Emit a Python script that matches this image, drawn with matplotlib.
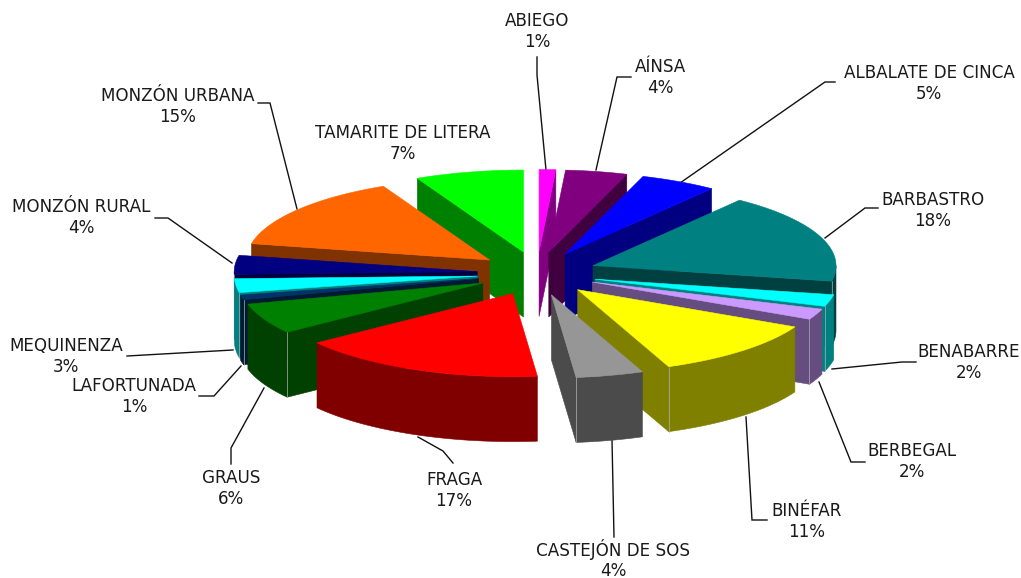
import numpy as np
import matplotlib
matplotlib.use("Agg")
import matplotlib.pyplot as plt
from matplotlib.patches import Polygon
from matplotlib.colors import to_rgb

categories = ["ABIEGO", "AÍNSA", "ALBALATE DE CINCA", "BARBASTRO", "BENABARRE",
              "BERBEGAL", "BINÉFAR", "CASTEJÓN DE SOS", "FRAGA", "GRAUS",
              "LAFORTUNADA", "MEQUINENZA", "MONZÓN RURAL", "MONZÓN URBANA",
              "TAMARITE DE LITERA"]
values = [1.1, 4.1, 5.1, 17.7, 2.3, 2.1, 11.49, 4.49, 16.52, 6.0, 0.9, 2.7, 3.7, 14.6, 7.2]
colors = ["#FF00FF", "#800080", "#0000FF", "#008080", "#00FFFF", "#CC99FF", "#FFFF00",
          "#969696", "#FF0000", "#008000", "#003366", "#00FFFF", "#000080", "#FF6600",
          "#00FF00"]

# label anchor (centre x, first line y) and leader polyline
label_pos = [(537, 21), (660, 67), (929, 73), (933, 200), (969, 352), (912, 451),
             (807, 511), (613, 550), (454, 480), (231, 478), (134, 386), (66, 346),
             (81, 207), (178, 96), (403, 133)]
leaders = [[(537, 57), (537, 75), (546, 170)],
           [(631, 77), (617, 77), (596, 170)],
           [(835, 82), (825, 82), (680, 183)],
           [(878, 208), (865, 208), (825, 238)],
           [(916, 362), (902, 362), (832, 369)],
           [(865, 462), (851, 462), (819, 382)],
           [(767, 520), (752, 520), (746, 417)],
           [(614, 537), (612, 440)],
           [(453, 463), (443, 451), (418, 437)],
           [(231, 464), (231, 448), (264, 388)],
           [(199, 396), (214, 396), (241, 366)],
           [(127, 356), (233, 350)],
           [(155, 218), (168, 218), (232, 263)],
           [(258, 103), (270, 103), (297, 209)],
           []]

CX, CY = 537, 273.5    # pie centre
EX, EY = 60, 22        # explosion
RX = 243               # pie radius across
RY_FAR, RY_NEAR = 82, 83   # foreshortened radii behind / in front of the centre
DEPTH = 65

fig = plt.figure(figsize=(10.21, 5.78), dpi=100)
ax = fig.add_axes([0, 0, 1, 1])
ax.set_xlim(0, 1021)
ax.set_ylim(578, 0)
ax.axis("off")

for pts in leaders:
    if pts:
        xs, ys = zip(*pts)
        ax.plot(xs, ys, color="#111111", lw=1.0, zorder=1, solid_joinstyle="miter")

total = sum(values)
edges = np.concatenate([[0], np.cumsum(values)]) / total * 2 * np.pi
mids = (edges[:-1] + edges[1:]) / 2
order = np.argsort(-np.cos(mids))


def poly(pts, col, z):
    ax.add_patch(Polygon(pts, closed=True, facecolor=col, edgecolor=col, lw=0.4, zorder=z))


z = 2
for i in order:
    t0, t1 = edges[i], edges[i + 1]
    tip = np.array([CX + EX * np.sin(mids[i]), CY - EY * np.cos(mids[i])])
    top = to_rgb(colors[i])
    side = tuple(c * 0.5 for c in top)
    down = np.array([0, DEPTH])

    def rim(t):
        c = np.cos(t)
        return tip + np.array([RX * np.sin(t), -(RY_FAR if c > 0 else RY_NEAR) * c])

    # front-facing radial walls
    if np.sin(t0) < -1e-6:
        a = rim(t0)
        poly([tip, a, a + down, tip + down], side, z); z += 1
    if np.sin(t1) > 1e-6:
        a = rim(t1)
        poly([tip, a, a + down, tip + down], side, z); z += 1
    # front-facing curved wall
    lo, hi = max(t0, np.pi / 2), min(t1, 3 * np.pi / 2)
    if hi > lo:
        ts = np.linspace(lo, hi, 60)
        arc = np.array([rim(t) for t in ts])
        poly(np.vstack([arc, (arc + down)[::-1]]), side, z); z += 1
        # pale seam where a radial wall meets the curved wall
        for t, show in ((t0, np.sin(t0) < 0), (t1, np.sin(t1) > 0)):
            if show and lo <= t <= hi:
                a = rim(t)
                ax.plot([a[0], a[0]], [a[1], a[1] + DEPTH], color="#B0B0B0", lw=0.5, zorder=z)
                z += 1
    # top face
    ts = np.linspace(t0, t1, 80)
    poly(np.vstack([tip, [rim(t) for t in ts]]), top, z); z += 1

for name, v, (x, y) in zip(categories, values, label_pos):
    ax.text(x, y, name, ha="center", va="center", fontsize=12.1, color="#1a1a1a", zorder=10000)
    ax.text(x, y + 21, f"{v / total * 100:.0f}%", ha="center", va="center", fontsize=12.1,
            color="#1a1a1a", zorder=10000)

fig.savefig("out.png", dpi=100, facecolor="white")
